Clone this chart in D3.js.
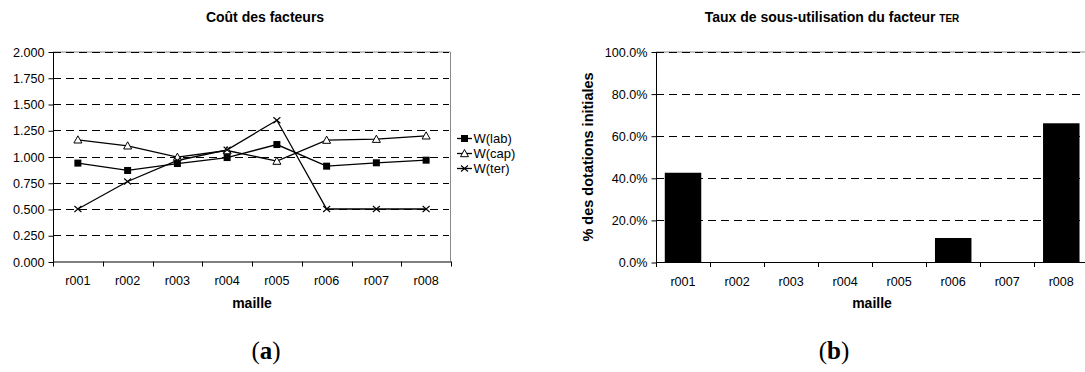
<!DOCTYPE html>
<html>
<head>
<meta charset="utf-8">
<script src="https://cdn.jsdelivr.net/npm/d3@7"></script>
<style>
  html, body { margin: 0; padding: 0; background: #fff; }
  svg { display: block; }
  text { font-family: "Liberation Sans", Arial, sans-serif; fill: #000; }
  text.caption { font-family: "Liberation Serif", "DejaVu Serif", serif; }
</style>
</head>
<body>
<svg id="fig" width="1085" height="372"></svg>
<script>
// Categories (mailles)
const mailles = ["r001", "r002", "r003", "r004", "r005", "r006", "r007", "r008"];

// Factor costs per maille
const wLab = [0.937, 0.867, 0.933, 0.990, 1.114, 0.908, 0.940, 0.965];
const wCap = [1.159, 1.102, 0.994, 1.057, 0.956, 1.156, 1.165, 1.197];
const wTer = [0.500, 0.762, 0.962, 1.064, 1.345, 0.500, 0.500, 0.500];
const seriesNames = ["W(lab)", "W(cap)", "W(ter)"];

// Under-use rate of the TER factor (% of initial endowments)
const sousUtil = [0.424, 0, 0, 0, 0, 0.114, 0, 0.659];

// Tick values
const coutTicks = [0, 0.25, 0.5, 0.75, 1.0, 1.25, 1.5, 1.75, 2.0];
const pctTicks = [0, 0.2, 0.4, 0.6, 0.8, 1.0];

const svg = d3.select("#fig");
const FS = 12.6;     // tick labels
const FB = 14;       // bold titles

function frame(g, x, y, ticks, fmt) {
  const [x0, x1] = x.range();
  const [y0, y1] = y.range();
  // plot-area border (top + right)
  g.append("path")
    .attr("d", `M${x0},${y1 + 0.5}H${x1 - 0.5}V${y0}`)
    .attr("fill", "none").attr("stroke", "#8a8a8a").attr("stroke-width", 1);
  // dashed gridlines
  g.selectAll("line.grid").data(ticks.filter(t => t > 0))
    .join("line")
    .attr("x1", x0).attr("x2", x1 - 2)
    .attr("y1", d => Math.round(y(d)) + 0.5).attr("y2", d => Math.round(y(d)) + 0.5)
    .attr("stroke", "#000").attr("stroke-width", 1)
    .attr("stroke-dasharray", "8,5");

  // y axis
  const ya = d3.axisLeft(y).tickValues(ticks).tickFormat(fmt).tickSize(5).tickPadding(4);
  const yg = g.append("g").attr("transform", `translate(${x0 + 0.5},0.5)`).call(ya);
  yg.select(".domain").attr("d", `M0,${y1}V${y0}`).attr("stroke", "#000");
  yg.selectAll("text").attr("font-size", FS).attr("font-family", null);
  yg.selectAll("line").attr("stroke", "#000");

  // x axis: ticks at category boundaries
  const bounds = x.domain().map(d => x(d)).concat([x1]);
  g.append("line").attr("x1", x0).attr("x2", x1).attr("y1", y0 + 0.5).attr("y2", y0 + 0.5)
    .attr("stroke", "#000").attr("stroke-width", 1.2);
  g.selectAll("line.xt").data(bounds).join("line")
    .attr("x1", d => Math.round(d) + 0.5).attr("x2", d => Math.round(d) + 0.5)
    .attr("y1", y0).attr("y2", y0 + 5).attr("stroke", "#000");
  g.selectAll("text.xl").data(x.domain()).join("text")
    .attr("x", d => x(d) + x.bandwidth() / 2).attr("y", y0 + 23.5)
    .attr("text-anchor", "middle").attr("font-size", FS).text(d => d);
}

// ---------- (a) Coût des facteurs ----------
{
  const g = svg.append("g");
  const x = d3.scaleBand().domain(mailles).range([53, 451]);
  const y = d3.scaleLinear().domain([0, 2]).range([261.5, 51.5]);
  frame(g, x, y, coutTicks, d3.format(".3f"));

  const cx = d => x(d) + x.bandwidth() / 2;
  const line = d3.line().x((v, i) => cx(mailles[i])).y(v => y(v));
  const all = [wLab, wCap, wTer];
  all.forEach(vals => {
    g.append("path").attr("d", line(vals)).attr("fill", "none")
      .attr("stroke", "#000").attr("stroke-width", 1.3);
  });

  function marker(sel, kind) {
    if (kind === 0) {
      sel.append("rect").attr("x", -3.5).attr("y", -3.5).attr("width", 7).attr("height", 7).attr("fill", "#000");
    } else if (kind === 1) {
      sel.append("path").attr("d", "M0,-4L4,3.2H-4Z").attr("fill", "#fff").attr("stroke", "#000").attr("stroke-width", 1);
    } else {
      sel.append("path").attr("d", "M-3.5,-3L3.5,3M-3.5,3L3.5,-3").attr("stroke", "#000").attr("stroke-width", 1.1);
    }
  }
  all.forEach((vals, k) => {
    vals.forEach((v, i) => {
      const m = g.append("g").attr("transform", `translate(${cx(mailles[i])},${y(v)})`);
      marker(m, k);
    });
  });

  // legend
  seriesNames.forEach((name, k) => {
    const ly = 138.5 + k * 15;
    g.append("line").attr("x1", 457).attr("x2", 472).attr("y1", ly).attr("y2", ly)
      .attr("stroke", "#000").attr("stroke-width", 1.3);
    marker(g.append("g").attr("transform", `translate(464.5,${ly})`), k);
    g.append("text").attr("x", 473.5).attr("y", ly + 4.6).attr("font-size", 13).text(name);
  });

  g.append("text").attr("x", 265).attr("y", 22).attr("text-anchor", "middle")
    .attr("font-size", FB).attr("font-weight", "bold").text("Coût des facteurs");
  g.append("text").attr("x", 252).attr("y", 308).attr("text-anchor", "middle")
    .attr("font-size", FB).attr("font-weight", "bold").text("maille");
}

// ---------- (b) Taux de sous-utilisation du facteur TER ----------
{
  const g = svg.append("g");
  const x = d3.scaleBand().domain(mailles).range([656, 1088.3]);
  const y = d3.scaleLinear().domain([0, 1]).range([262, 51.5]);
  frame(g, x, y, pctTicks, d3.format(".1%"));

  const bw = x.bandwidth() * 0.675;
  g.selectAll("rect.bar").data(sousUtil).join("rect")
    .attr("x", (v, i) => x(mailles[i]) + (x.bandwidth() - bw) / 2)
    .attr("y", v => y(v)).attr("width", bw).attr("height", v => y(0) - y(v))
    .attr("fill", "#000");

  const t = g.append("text").attr("x", 832).attr("y", 22).attr("text-anchor", "middle")
    .attr("font-size", FB).attr("font-weight", "bold");
  t.append("tspan").text("Taux de sous-utilisation du facteur ");
  t.append("tspan").attr("font-size", 10).text("TER");

  g.append("text").attr("x", 872).attr("y", 308).attr("text-anchor", "middle")
    .attr("font-size", FB).attr("font-weight", "bold").text("maille");
  g.append("text").attr("transform", "translate(588,157) rotate(-90)").attr("text-anchor", "middle")
    .attr("dominant-baseline", "central")
    .attr("font-size", 14.5).attr("font-weight", "bold").text("% des dotations initiales");
}

// sub-figure captions
function caption(cx, letter) {
  const t = svg.append("text").attr("class", "caption").attr("x", cx).attr("y", 359)
    .attr("text-anchor", "middle").attr("font-size", 25);
  t.append("tspan").text("(");
  t.append("tspan").attr("font-weight", "bold").text(letter);
  t.append("tspan").text(")");
}
caption(266, "a");
caption(834, "b");
</script>
</body>
</html>
